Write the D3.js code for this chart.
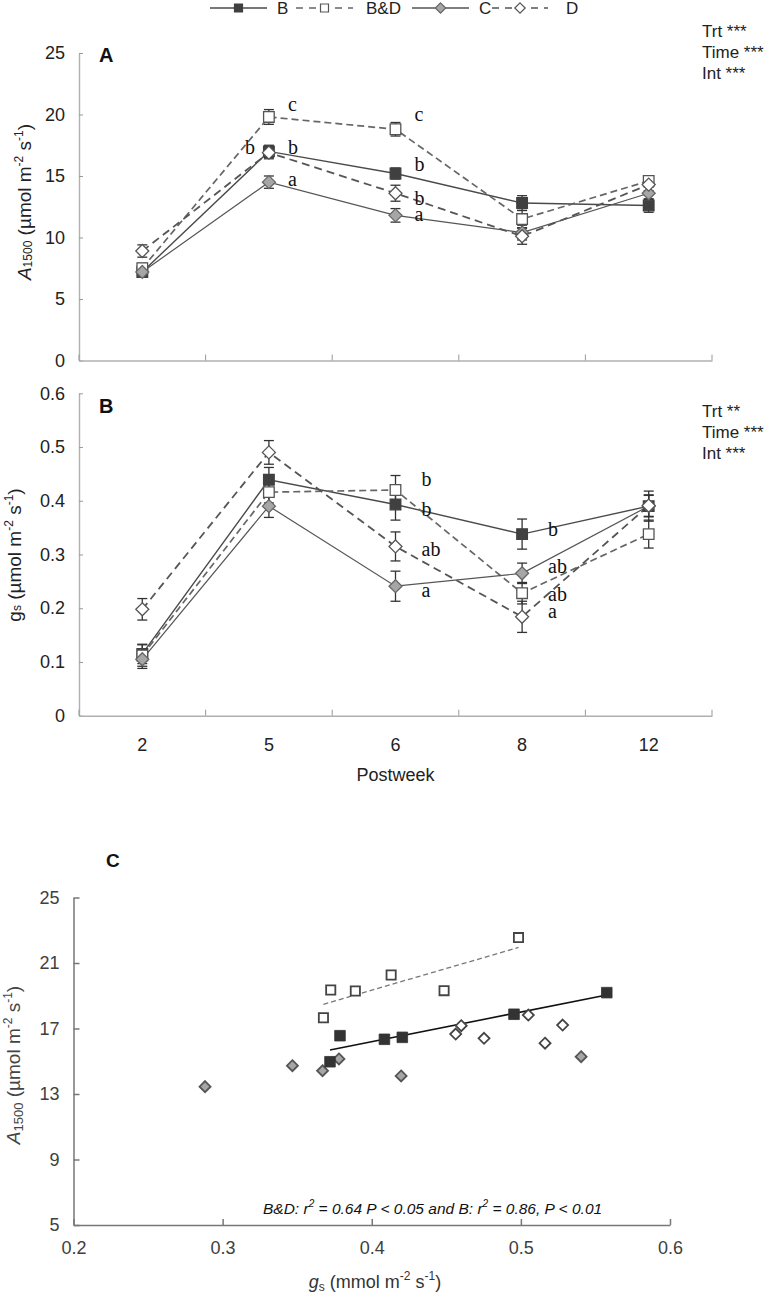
<!DOCTYPE html>
<html><head><meta charset="utf-8">
<script src="https://cdn.jsdelivr.net/npm/d3@7"></script>
<style>body{margin:0;background:#fff}</style>
</head><body>
<svg id="c" width="769" height="1294"></svg>
<script>
// ---------------- DATA ----------------
const weeks = ["2","5","6","8","12"];
const seriesNames = ["B","B&D","C","D"];

// Panel A: A1500
const aB  = [7.2, 17.0, 15.2, 12.8, 12.6];
const aBD = [7.5, 19.8, 18.8, 11.5, 14.6];
const aC  = [7.2, 14.5, 11.8, 10.4, 13.6];
const aD  = [8.9, 16.9, 13.6, 10.1, 14.3];
const aErrB  = [0.3, 0.5, 0.45, 0.6, 0.55];
const aErrBD = [0.4, 0.6, 0.55, 0.7, 0.4];
const aErrC  = [0.3, 0.5, 0.55, 0.6, 0.5];
const aErrD  = [0.5, 0.5, 0.65, 0.65, 0.5];
const lettersA = [
  {w:"5", v:20.3,  t:"c", side:"r"},
  {w:"5", v:16.75, t:"b", side:"l"},
  {w:"5", v:16.75, t:"b", side:"r"},
  {w:"5", v:14.17, t:"a", side:"r"},
  {w:"6", v:19.46, t:"c", side:"r"},
  {w:"6", v:15.4,  t:"b", side:"r"},
  {w:"6", v:12.68, t:"b", side:"r"},
  {w:"6", v:11.32, t:"a", side:"r"}
];
const statsA = ["Trt ***", "Time ***", "Int ***"];
const ticksA = [0,5,10,15,20,25];

// Panel B: gs
const bB  = [0.115, 0.439, 0.393, 0.338, 0.390];
const bBD = [0.112, 0.416, 0.420, 0.228, 0.338];
const bC  = [0.105, 0.390, 0.241, 0.265, 0.390];
const bD  = [0.198, 0.490, 0.315, 0.184, 0.391];
const bErrB  = [0.018, 0.023, 0.029, 0.028, 0.028];
const bErrBD = [0.020, 0.020, 0.027, 0.020, 0.026];
const bErrC  = [0.017, 0.021, 0.028, 0.019, 0.020];
const bErrD  = [0.020, 0.022, 0.027, 0.029, 0.020];
const lettersB = [
  {w:"6", v:0.428,  t:"b"},
  {w:"6", v:0.372,  t:"b"},
  {w:"6", v:0.297,  t:"ab"},
  {w:"6", v:0.2216, t:"a"},
  {w:"8", v:0.3346, t:"b"},
  {w:"8", v:0.265,  t:"ab"},
  {w:"8", v:0.2136, t:"ab"},
  {w:"8", v:0.181,  t:"a"}
];
const statsB = ["Trt **", "Time ***", "Int ***"];
const ticksB = [0,0.1,0.2,0.3,0.4,0.5,0.6];

// Panel C: scatter gs vs A1500
const cBx  = [0.5576, 0.4954, 0.4205, 0.4085, 0.3787, 0.3720];
const cBy  = [19.19, 17.87, 16.46, 16.34, 16.56, 14.97];
const cBDx = [0.4984, 0.4130, 0.4485, 0.3725, 0.3890, 0.3676];
const cBDy = [22.55, 20.27, 19.31, 19.35, 19.29, 17.66];
const cCx  = [0.2882, 0.3468, 0.3670, 0.3780, 0.4197, 0.5404];
const cCy  = [13.45, 14.73, 14.42, 15.14, 14.10, 15.28];
const cDx  = [0.4563, 0.4600, 0.4753, 0.5050, 0.5162, 0.5280];
const cDy  = [16.66, 17.17, 16.40, 17.82, 16.10, 17.21];
const trendBDx = [0.3676, 0.4984];
const trendBDy = [18.48, 21.95];
const trendBx  = [0.3720, 0.5576];
const trendBy  = [15.69, 19.05];
const ticksCx = [0.2,0.3,0.4,0.5,0.6];
const ticksCy = [5,9,13,17,21,25];

// ---------------- STYLE ----------------
const SANS = "'Liberation Sans', Arial, sans-serif";
const SERIF = "'Liberation Serif', 'Times New Roman', serif";
const style = {
  "B":   {stroke:"#4a4a4a", width:1.4, dash:null,  shape:"square",  fill:"#404040", mstroke:"#404040"},
  "B&D": {stroke:"#666",    width:1.7, dash:"7,4", shape:"square",  fill:"#fff",    mstroke:"#555"},
  "C":   {stroke:"#555",    width:1.2, dash:null,  shape:"diamond", fill:"#a6a6a6", mstroke:"#666"},
  "D":   {stroke:"#555",    width:1.8, dash:"8,5", shape:"diamond", fill:"#fff",    mstroke:"#555"}
};
function markerPath(shape, s){
  if(shape==="square") return `M${-s},${-s}H${s}V${s}H${-s}Z`;
  return `M0,${-s}L${s},0L0,${s}L${-s},0Z`;
}

const svg = d3.select("#c");

// ---------------- LINE PANELS ----------------
const xA = d3.scaleBand().domain(weeks).range([79, 712]).padding(0);
const cx = w => xA(w) + xA.bandwidth()/2;

function linePanel(o){
  const g = svg.append("g");
  // left axis
  const ax = g.append("g").attr("transform", `translate(${xA.range()[0]},0)`)
    .call(d3.axisLeft(o.y).tickValues(o.ticks).tickFormat(o.fmt)
      .tickSizeInner(-4).tickSizeOuter(0).tickPadding(14));
  ax.select(".domain").attr("stroke","#b0b0b0").attr("stroke-width",1.4);
  ax.selectAll(".tick line").attr("stroke","#999");
  ax.selectAll("text").attr("font-family",SANS).attr("font-size",18).attr("fill","#222");
  // bottom axis
  const y0 = o.y(0);
  const bx = g.append("g").attr("transform", `translate(0,${y0})`)
    .call(d3.axisBottom(xA).tickSize(0).tickPadding(23));
  bx.select(".domain").attr("stroke","#b0b0b0").attr("stroke-width",1.4);
  bx.selectAll("text").attr("font-family",SANS).attr("font-size",18).attr("fill","#222")
    .style("display", o.xlabels ? null : "none");
  const edges = weeks.map(w => xA(w)).concat([xA.range()[1]]);
  g.selectAll(".edge").data(edges).enter().append("line")
    .attr("x1",d=>d).attr("x2",d=>d).attr("y1",y0).attr("y2",y0-6)
    .attr("stroke","#999").attr("stroke-width",1);

  // lines
  const line = d3.line().x((d,i)=>cx(weeks[i])).y(d=>o.y(d));
  seriesNames.forEach(s=>{
    const st = style[s];
    g.append("path").datum(o.vals[s]).attr("d",line).attr("fill","none")
      .attr("stroke",st.stroke).attr("stroke-width",st.width)
      .attr("stroke-dasharray",st.dash);
  });
  // error bars
  seriesNames.forEach(s=>{
    o.vals[s].forEach((v,i)=>{
      const e = o.errs[s][i], x = cx(weeks[i]);
      const eg = g.append("g").attr("stroke","#333").attr("stroke-width",1.3);
      eg.append("line").attr("x1",x).attr("x2",x).attr("y1",o.y(v-e)).attr("y2",o.y(v+e));
      [v-e, v+e].forEach(t=>eg.append("line").attr("x1",x-5).attr("x2",x+5).attr("y1",o.y(t)).attr("y2",o.y(t)));
    });
  });
  // markers
  seriesNames.forEach(s=>{
    const st = style[s];
    g.selectAll(null).data(o.vals[s]).enter().append("path")
      .attr("transform",(d,i)=>`translate(${cx(weeks[i])},${o.y(d)})`)
      .attr("d", markerPath(st.shape, st.shape==="square"?5.3:6.5))
      .attr("fill",st.fill).attr("stroke",st.mstroke).attr("stroke-width",1.3);
  });
  // letters
  g.selectAll(null).data(o.letters).enter().append("text")
    .attr("x", d => d.side==="l" ? cx(d.w)-o.ldx+5 : cx(d.w)+o.ldx)
    .attr("y", d => o.y(d.v))
    .attr("text-anchor", d => d.side==="l" ? "end" : "start")
    .attr("font-family",SERIF).attr("font-size",20).attr("fill","#111")
    .text(d=>d.t);
  // panel label
  g.append("text").attr("x",99).attr("y",o.labelY).attr("font-family",SANS)
    .attr("font-weight","bold").attr("font-size",20).attr("fill","#111").text(o.label);
  // stats
  g.selectAll(null).data(o.stats).enter().append("text")
    .attr("x",702).attr("y",(d,i)=>o.statsY + i*21)
    .attr("font-family",SANS).attr("font-size",17).attr("fill","#222").text(d=>d);
  return g;
}

const yA = d3.scaleLinear().domain([0,25]).range([360.5, 53]);
linePanel({
  y: yA, ticks: ticksA, fmt: d3.format("d"), xlabels:false,
  vals: {"B":aB,"B&D":aBD,"C":aC,"D":aD},
  errs: {"B":aErrB,"B&D":aErrBD,"C":aErrC,"D":aErrD},
  letters: lettersA, ldx: 19, label:"A", labelY: 62, stats: statsA, statsY: 37
});

const yB = d3.scaleLinear().domain([0,0.6]).range([715.7, 393.3]);
linePanel({
  y: yB, ticks: ticksB, fmt: d => d===0 ? "0" : d3.format(".1f")(d), xlabels:true,
  vals: {"B":bB,"B&D":bBD,"C":bC,"D":bD},
  errs: {"B":bErrB,"B&D":bErrBD,"C":bErrC,"D":bErrD},
  letters: lettersB.map(d=>Object.assign({side:"r"},d)), ldx: 26, label:"B", labelY: 413, stats: statsB, statsY: 417
});

// axis titles A & B
function sup(t, txt, size){ t.append("tspan").attr("font-size",size).attr("dy",-8).text(txt); }
{
  const t = svg.append("text").attr("transform","translate(31,202) rotate(-90)")
    .attr("text-anchor","middle").attr("font-family",SANS).attr("font-size",19).attr("fill","#222");
  t.append("tspan").attr("font-style","italic").text("A");
  t.append("tspan").attr("font-size",12).attr("dy",1).text("1500");
  t.append("tspan").attr("dy",-1).text(" (µmol m");
  t.append("tspan").attr("font-size",12).attr("dy",-8).text("-2");
  t.append("tspan").attr("dy",8).text(" s");
  t.append("tspan").attr("font-size",12).attr("dy",-8).text("-1");
  t.append("tspan").attr("dy",8).text(")");
}
{
  const t = svg.append("text").attr("transform","translate(21,555) rotate(-90)")
    .attr("text-anchor","middle").attr("font-family",SANS).attr("font-size",19).attr("fill","#222");
  t.append("tspan").text("g");
  t.append("tspan").attr("font-size",12).text("s");
  t.append("tspan").text(" (µmol m");
  t.append("tspan").attr("font-size",12).attr("dy",-8).text("-2");
  t.append("tspan").attr("dy",8).text(" s");
  t.append("tspan").attr("font-size",12).attr("dy",-8).text("-1");
  t.append("tspan").attr("dy",8).text(")");
}
svg.append("text").attr("x",cx("6")).attr("y",781).attr("text-anchor","middle")
  .attr("font-family",SANS).attr("font-size",18).attr("fill","#222").text("Postweek");

// ---------------- LEGEND ----------------
{
  const lg = svg.append("g").attr("transform","translate(0,8)");
  const items = [
    {s:"B", x0:210, x1:267, tx:277},
    {s:"B&D", x0:296, x1:353, tx:366},
    {s:"C", x0:412, x1:469, tx:479},
    {s:"D", x0:492, x1:548, tx:566}
  ];
  items.forEach(it=>{
    const st = style[it.s];
    lg.append("line").attr("x1",it.x0).attr("x2",it.x1).attr("y1",0).attr("y2",0)
      .attr("stroke",st.stroke).attr("stroke-width",1.5).attr("stroke-dasharray",st.dash ? "7,6" : null);
    lg.append("path").attr("transform",`translate(${(it.x0+it.x1)/2},0)`)
      .attr("d",markerPath(st.shape, st.shape==="square"?4:5.2))
      .attr("fill",st.fill).attr("stroke",st.mstroke).attr("stroke-width",1.2);
    lg.append("text").attr("x",it.tx).attr("y",6).attr("font-family",SANS).attr("font-size",17)
      .attr("fill","#222").text(it.s);
  });
}

// ---------------- PANEL C ----------------
const xC = d3.scaleLinear().domain([0.2,0.6]).range([73.5, 670]);
const yC = d3.scaleLinear().domain([5,25]).range([1225, 897.5]);
{
  const g = svg.append("g");
  const ay = g.append("g").attr("transform",`translate(${xC(0.2)},0)`)
    .call(d3.axisLeft(yC).tickValues(ticksCy).tickFormat(d3.format("d"))
      .tickSizeInner(-6).tickSizeOuter(0).tickPadding(14));
  const axb = g.append("g").attr("transform",`translate(0,${yC(5)})`)
    .call(d3.axisBottom(xC).tickValues(ticksCx).tickFormat(d3.format(".1f"))
      .tickSizeInner(-6).tickSizeOuter(0).tickPadding(16));
  [ay, axb].forEach(a=>{
    a.select(".domain").attr("stroke","#777").attr("stroke-width",1.5);
    a.selectAll(".tick line").attr("stroke","#777").attr("stroke-width",1.5);
    a.selectAll("text").attr("font-family",SANS).attr("font-size",18).attr("fill","#404040");
  });
  // trend lines
  g.append("line").attr("x1",xC(trendBDx[0])).attr("y1",yC(trendBDy[0]))
    .attr("x2",xC(trendBDx[1])).attr("y2",yC(trendBDy[1]))
    .attr("stroke","#777").attr("stroke-width",1.3).attr("stroke-dasharray","5,3");
  g.append("line").attr("x1",xC(trendBx[0])).attr("y1",yC(trendBy[0]))
    .attr("x2",xC(trendBx[1])).attr("y2",yC(trendBy[1]))
    .attr("stroke","#111").attr("stroke-width",1.6);
  const sets = [
    {s:"C", xs:cCx, ys:cCy, size:5.5, fill:"#a6a6a6", stroke:"#555", sw:1.8},
    {s:"D", xs:cDx, ys:cDy, size:5.5, fill:"#fff", stroke:"#444", sw:1.8},
    {s:"B&D", xs:cBDx, ys:cBDy, size:4.6, fill:"#fff", stroke:"#444", sw:1.8},
    {s:"B", xs:cBx, ys:cBy, size:5.3, fill:"#333", stroke:"#333", sw:0.8}
  ];
  sets.forEach(st=>{
    g.selectAll(null).data(st.xs).enter().append("path")
      .attr("transform",(d,i)=>`translate(${xC(d)},${yC(st.ys[i])})`)
      .attr("d", markerPath(style[st.s].shape, st.size))
      .attr("fill",st.fill).attr("stroke",st.stroke).attr("stroke-width",st.sw);
  });
  g.append("text").attr("x",106).attr("y",867).attr("font-family",SANS)
    .attr("font-weight","bold").attr("font-size",19).attr("fill","#111").text("C");
  // annotation
  const an = g.append("text").attr("x",263).attr("y",1214).attr("font-family",SANS)
    .attr("font-style","italic").attr("font-size",15.5).attr("fill","#111");
  an.append("tspan").text("B&D: r");
  an.append("tspan").attr("font-size",10).attr("dy",-7).text("2");
  an.append("tspan").attr("dy",7).text(" = 0.64 P < 0.05 and B: r");
  an.append("tspan").attr("font-size",10).attr("dy",-7).text("2");
  an.append("tspan").attr("dy",7).text(" = 0.86, P < 0.01");
  // axis titles
  const ty = g.append("text").attr("transform","translate(20,1065) rotate(-90)")
    .attr("text-anchor","middle").attr("font-family",SANS).attr("font-size",19).attr("fill","#444");
  ty.append("tspan").attr("font-style","italic").text("A");
  ty.append("tspan").attr("font-size",13).attr("dy",3).text("1500");
  ty.append("tspan").attr("dy",-3).text(" (µmol m");
  ty.append("tspan").attr("font-size",12).attr("dy",-8).text("-2");
  ty.append("tspan").attr("dy",8).text(" s");
  ty.append("tspan").attr("font-size",12).attr("dy",-8).text("-1");
  ty.append("tspan").attr("dy",8).text(")");
  const tx = g.append("text").attr("x",375).attr("y",1288).attr("text-anchor","middle")
    .attr("font-family",SANS).attr("font-size",18).attr("fill","#333");
  tx.append("tspan").attr("font-style","italic").text("g");
  tx.append("tspan").attr("font-size",12).attr("dy",3).text("s");
  tx.append("tspan").attr("dy",-3).text(" (mmol m");
  tx.append("tspan").attr("font-size",12).attr("dy",-8).text("-2");
  tx.append("tspan").attr("dy",8).text(" s");
  tx.append("tspan").attr("font-size",12).attr("dy",-8).text("-1");
  tx.append("tspan").attr("dy",8).text(")");
}
</script>
</body></html>
